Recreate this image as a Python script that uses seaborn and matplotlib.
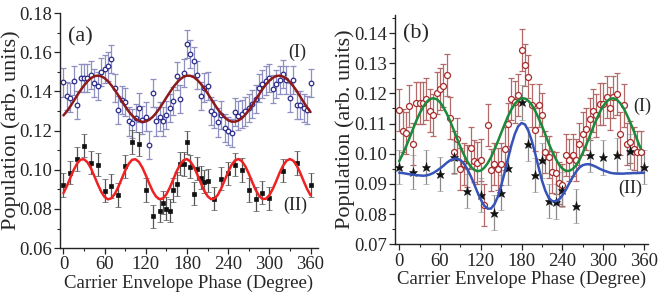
import matplotlib
matplotlib.use("Agg")
import matplotlib.pyplot as plt
import seaborn as sns
from matplotlib.ticker import MultipleLocator, FormatStrFormatter

# phase grid (degrees) used by the dense series and the fit curves
phase_5deg = list(range(0, 365, 5))
phase_b1 = list(range(0, 360, 5))

# panel (a), series (I) - open circles
pop_a1 = [.1446, .1379, .1369, .1456, .1332, .1468, .1468, .1471, .1485, .1443,
          .1430, .1499, .1516, .1528, .1565, .1417, .1306, .1357, .1345, .1247,
          .1237, .1264, .1318, .1255, .1272, .1128, .1391, .1247, .1272, .1247,
          .1281, .1315, .1352, .1480, .1362, .1494, .1643, .1591, .1557, .1485,
          .1379, .1420, .1429, .1301, .1284, .1242, .1281, .1213, .1199, .1190,
          .1294, .1277, .1284, .1298, .1315, .1336, .1362, .1417, .1437, .1456,
          .1471, .1413, .1437, .1460, .1489, .1460, .1369, .1460, .1332, .1332,
          .1315, .1306, .1443]
err_a1 = 0.0072

# panel (a), series (II) - filled squares
phase_a2 = [0, 10, 20, 30, 40, 50, 60, 70, 80, 90, 100, 110, 120, 130,
            140, 145, 150, 155, 160, 165, 170, 175, 180, 185, 190, 195, 200, 205, 210,
            220, 230, 240, 250, 260, 270, 280, 290, 300, 320, 340, 360]
pop_a2 = [.0923, .0986, .1054, .1123, .1037, .1026, .0893, .0918, .0872, .1017, .1141, .1133, .0898, .0762,
          .0792, .0832, .0802, .0791, .0898, .0927, .1031, .1029, .1140, .1016, .0878, .1006, .0960, .0940, .0945,
          .0853, .0955, .0982, .1026, .1000, .0898, .0852, .0884, .0854, .0996, .1034, .0922]
err_a2 = 0.006

# fitted curves, panel (a)
fit_a1 = [.1278, .1299, .1324, .1352, .1380, .1407, .1431, .1452, .1468, .1478,
          .1481, .1478, .1468, .1452, .1431, .1407, .1380, .1352, .1324, .1299,
          .1278, .1261, .1250, .1245, .1247, .1256, .1270, .1290, .1314, .1341,
          .1369, .1396, .1422, .1444, .1462, .1475, .1481, .1480, .1473, .1459,
          .1440, .1417, .1391, .1363, .1335, .1309, .1286, .1267, .1253, .1246,
          .1246, .1252, .1264, .1282, .1304, .1330, .1357, .1385, .1412, .1436,
          .1456, .1470, .1479, .1481, .1476, .1465, .1448, .1427, .1402, .1374,
          .1346, .1319, .1295]
fit_a2 = [.0881, .0917, .0960, .1000, .1033, .1052, .1054, .1038, .1008, .0968,
          .0926, .0888, .0861, .0849, .0855, .0878, .0913, .0955, .0997, .1030,
          .1051, .1054, .1040, .1011, .0972, .0930, .0891, .0863, .0850, .0854,
          .0875, .0909, .0951, .0993, .1027, .1049, .1055, .1042, .1015, .0976,
          .0934, .0894, .0865, .0850, .0853, .0872, .0906, .0947, .0989, .1025,
          .1048, .1055, .1044, .1018, .0981, .0938, .0898, .0867, .0851, .0852,
          .0870, .0902, .0942, .0985, .1021, .1046, .1055, .1046, .1021, .0985,
          .0942, .0902, .0870]

# panel (b), series (I) - open circles
pop_b1 = [.1146, .1077, .1069, .1157, .1033, .1168, .1168, .1168, .1182, .1143,
          .1129, .1202, .1215, .1226, .1262, .1119, .1006, .1050, .0950, .0965,
          .0960, .1020, .0975, .0970, .0978, .0830, .1094, .0945, .0967, .0950,
          .0967, .1017, .1097, .1182, .1172, .1195, .1344, .1295, .1256, .1160,
          .1080, .1160, .1130, .1006, .0990, .0940, .0935, .0904, .0896, .0995,
          .0978, .0995, .0980, .1033, .1067, .1083, .1116, .1143, .1127, .1166,
          .1166, .1188, .1150, .1188, .1198, .1067, .1160, .1031, .1039, .1017,
          .1006, .1006]
err_b1 = 0.007

# panel (b), series (II) - stars
phase_b2 = [0, 20, 40, 60, 80, 100, 120, 140, 150, 160, 180, 190, 200, 210,
            220, 230, 240, 260, 280, 300, 320, 340, 360]
pop_b2 = [.0956, .0940, .0956, .0932, .0989, .0877, .0863, .0805, .0871, .0953, .1170, .1033, .0929, .0978,
          .0843, .0841, .0881, .0827, .0996, .0988, .0995, .1008, .0956]
err_b2 = 0.0057

# fitted curves, panel (b)
fit_b1 = [.0975, .0998, .1023, .1051, .1080, .1108, .1133, .1154, .1171, .1181,
          .1184, .1181, .1171, .1154, .1133, .1108, .1080, .1051, .1023, .0998,
          .0975, .0958, .0947, .0942, .0944, .0953, .0968, .0988, .1013, .1040,
          .1069, .1097, .1124, .1147, .1165, .1177, .1184, .1183, .1175, .1162,
          .1142, .1118, .1092, .1063, .1034, .1008, .0984, .0964, .0951, .0943,
          .0943, .0949, .0961, .0979, .1003, .1029, .1057, .1086, .1113, .1138,
          .1158, .1173, .1182, .1184, .1179, .1168, .1151, .1128, .1103, .1075,
          .1046, .1018]
fit_b2 = [.0937, .0936, .0934, .0932, .0931, .0929, .0928, .0927, .0928, .0931,
          .0936, .0943, .0951, .0960, .0970, .0978, .0983, .0984, .0979, .0968,
          .0950, .0927, .0901, .0873, .0848, .0828, .0818, .0818, .0832, .0857,
          .0894, .0937, .0983, .1028, .1065, .1091, .1102, .1097, .1076, .1043,
          .1001, .0955, .0911, .0877, .0853, .0843, .0842, .0848, .0862, .0880,
          .0901, .0922, .0940, .0954, .0962, .0965, .0965, .0961, .0956, .0950,
          .0945, .0941, .0937, .0935, .0934, .0934, .0934, .0935, .0935, .0936,
          .0936, .0937, .0937]

sns.set_style("ticks")
plt.rcParams["font.family"] = ["Liberation Serif", "DejaVu Serif"]

fig = plt.figure(figsize=(6.64, 3.0), dpi=100)
ax_a = fig.add_axes([0.0904, 0.173, 0.3886, 0.783])
ax_b = fig.add_axes([0.595, 0.186, 0.381, 0.764])

# --- panel (a)
ax_a.errorbar(phase_5deg, pop_a1, yerr=err_a1, fmt="o", ms=3.3, mfc="white", mec="#2b2b8c",
              mew=0.9, ecolor="#8f8fc2", elinewidth=0.9, capsize=2, capthick=0.9, zorder=2)
ax_a.errorbar(phase_a2, pop_a2, yerr=err_a2, fmt="s", ms=3.4, mfc="#111111", mec="#111111",
              mew=0.5, ecolor="#555555", elinewidth=0.9, capsize=2, capthick=0.9, zorder=2)
sns.lineplot(x=phase_5deg, y=fit_a1, ax=ax_a, color="#8c1a1a", lw=1.8, zorder=3)
sns.lineplot(x=phase_5deg, y=fit_a2, ax=ax_a, color="#ee2222", lw=1.8, zorder=3)

ax_a.set_xlim(-5, 371)
ax_a.set_ylim(0.06, 0.18)
ax_a.yaxis.set_major_locator(MultipleLocator(0.02))
ax_a.yaxis.set_minor_locator(MultipleLocator(0.01))
ax_a.text(7, 0.1679, "(a)", fontsize=16, va="center", ha="left")
ax_a.text(341, 0.160, "(I)", fontsize=13, va="center", ha="center")
ax_a.text(338, 0.0816, "(II)", fontsize=13, va="center", ha="center")

# --- panel (b)
ax_b.errorbar(phase_b1, pop_b1, yerr=err_b1, fmt="o", ms=4.3, mfc="white", mec="#a82a2a",
              mew=0.9, ecolor="#b56a6a", elinewidth=0.9, capsize=2.5, capthick=0.9, zorder=2)
ax_b.errorbar(phase_b2, pop_b2, yerr=err_b2, fmt="*", ms=6.5, mfc="#111111", mec="#111111",
              mew=0.4, ecolor="#8a8a8a", elinewidth=0.9, capsize=2.5, capthick=0.9, zorder=2)
sns.lineplot(x=phase_b1, y=fit_b1, ax=ax_b, color="#1b8a3a", lw=1.8, zorder=3)
sns.lineplot(x=phase_5deg, y=fit_b2, ax=ax_b, color="#3553b8", lw=1.8, zorder=3)

ax_b.set_xlim(-6, 366)
ax_b.set_ylim(0.07, 0.146)
ax_b.yaxis.set_major_locator(MultipleLocator(0.01))
ax_b.yaxis.set_minor_locator(MultipleLocator(0.005))
ax_b.text(6, 0.1396, "(b)", fontsize=16, va="center", ha="left")
ax_b.text(357, 0.1157, "(I)", fontsize=13, va="center", ha="center")
ax_b.text(340, 0.0884, "(II)", fontsize=13, va="center", ha="center")

for ax in (ax_a, ax_b):
    sns.despine(ax=ax)
    ax.xaxis.set_major_locator(MultipleLocator(60))
    ax.xaxis.set_minor_locator(MultipleLocator(30))
    ax.yaxis.set_major_formatter(FormatStrFormatter("%.2f"))
    ax.tick_params(which="major", direction="out", length=4, width=0.9, labelsize=13.5, pad=2)
    ax.tick_params(which="minor", direction="out", length=2.5, width=0.8)
    for sp in ("left", "bottom"):
        ax.spines[sp].set_linewidth(1.0)
        ax.spines[sp].set_color("#222222")
    ax.set_xlabel("Carrier Envelope Phase (Degree)", fontsize=13.5, labelpad=1)
    ax.set_ylabel("Population (arb. units)", fontsize=16)

ax_a.yaxis.set_label_coords(-0.150, 0.5)
ax_b.yaxis.set_label_coords(-0.158, 0.5)

fig.savefig("out.png", dpi=100)
